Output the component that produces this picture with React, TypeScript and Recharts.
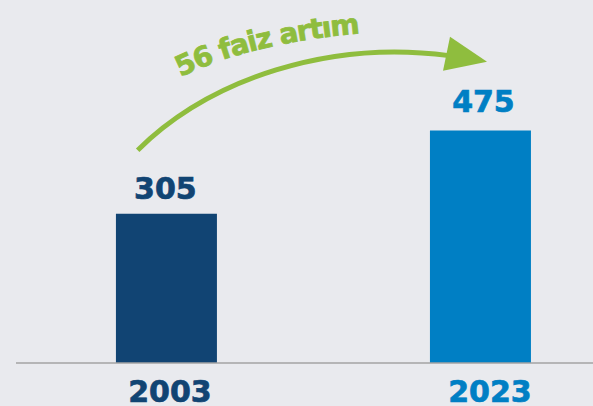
import React from 'react';
import { BarChart, Bar, XAxis, YAxis, Cell, LabelList, ReferenceLine } from 'recharts';

const years = [2003, 2023];
const values = [305, 475];
const barColors = ['#114473', '#007fc4'];

// arrow annotation, in data coordinates (year, value)
const arrowFrom = { x: 2001.2, y: 435 };
const arrowTo = { x: 2023.45, y: 616 };
const arrowText = '56 faiz artım';

const GREEN = '#8fbd3e';
const FONT = '"DejaVu Sans", sans-serif';

const data = years.map((year, i) => ({ year, value: values[i] }));

const YearTick = (props: any) => {
  const { x, y, payload, index } = props;
  const i = years.indexOf(payload.value);
  const dx = index === 0 ? 4 : 10;
  return (
    <text
      x={x + dx}
      y={y + 39}
      textAnchor="middle"
      fontFamily={FONT}
      fontWeight="bold"
      fontSize={30}
      fill={barColors[i]}
      stroke={barColors[i]}
      strokeWidth={0.7}
    >
      {payload.value}
    </text>
  );
};

const ValueLabel = (props: any) => {
  const { x, y, width, value, index } = props;
  return (
    <text
      x={x + width / 2 + (index === 0 ? -1 : 3)}
      y={y - (index === 0 ? 15 : 19)}
      textAnchor="middle"
      fontFamily={FONT}
      fontWeight="bold"
      fontSize={30}
      fill={barColors[index]}
      stroke={barColors[index]}
      strokeWidth={0.7}
    >
      {value}
    </text>
  );
};

const CurvedArrow = (props: any) => {
  const { x1, y1, x2, y2 } = props;
  if ([x1, y1, x2, y2].some((v) => typeof v !== 'number')) return null;
  const shaft = `M ${x1} ${y1} C ${x1 + 73} ${y1 - 72}, ${x2 - 157} ${y2 - 22}, ${x2 - 38} ${y2 - 6}`;
  const head = `M ${x2} ${y2} L ${x2 - 37} ${y2 - 25} L ${x2 - 44} ${y2 + 9} Z`;
  const textPath = `M ${x1 + 43} ${y1 - 73} Q ${x1 + 118} ${y1 - 110}, ${x1 + 240} ${y1 - 118}`;
  return (
    <g>
      <path d={shaft} fill="none" stroke={GREEN} strokeWidth={5} />
      <path d={head} fill={GREEN} />
      <path id="arrowTextPath" d={textPath} fill="none" stroke="none" />
      <text
        fontFamily={FONT}
        fontWeight="bold"
        fontSize={28}
        fill={GREEN}
        stroke={GREEN}
        strokeWidth={0.8}
        letterSpacing={-1.2}
      >
        <textPath href="#arrowTextPath">{arrowText}</textPath>
      </text>
    </g>
  );
};

export default function App() {
  return (
    <div style={{ position: 'absolute', left: 0, top: 0, width: 593, height: 406, background: '#e9eaee' }}>
      <BarChart width={593} height={406} data={data} margin={{ top: 0, right: 0, bottom: 0, left: 16 }}>
        <XAxis
          dataKey="year"
          type="number"
          domain={[1993.45, 2030.2]}
          allowDataOverflow
          ticks={years}
          interval={0}
          height={43}
          tickLine={false}
          tickSize={0}
          tickMargin={0}
          axisLine={{ stroke: '#a3a3a3', strokeWidth: 1.5 }}
          tick={<YearTick />}
        />
        <YAxis hide domain={[0, 742]} allowDataOverflow />
        <Bar dataKey="value" barSize={101} isAnimationActive={false}>
          {data.map((d, i) => (
            <Cell key={d.year} fill={barColors[i]} />
          ))}
          <LabelList dataKey="value" content={<ValueLabel />} />
        </Bar>
        <ReferenceLine segment={[arrowFrom, arrowTo]} shape={<CurvedArrow />} ifOverflow="visible" />
      </BarChart>
    </div>
  );
}
